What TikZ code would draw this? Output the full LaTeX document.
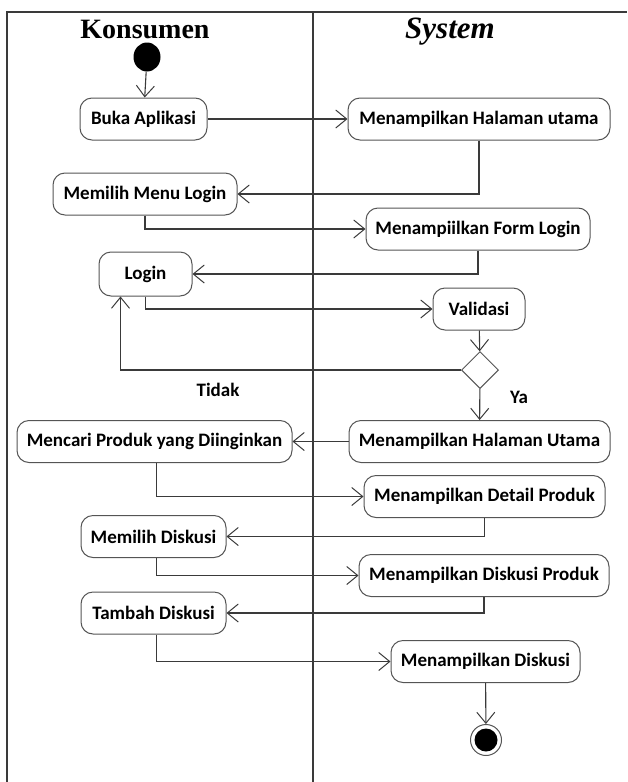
\documentclass[tikz,border=0pt]{standalone}
\usepackage{fontspec}
\setmainfont{Carlito}
\newfontfamily\headfont{Liberation Serif}
\usetikzlibrary{arrows.meta,shapes.geometric}
\definecolor{edgegray}{HTML}{3A3A3A}
\definecolor{boxgray}{HTML}{555555}
\tikzset{
  act/.style={draw=boxgray, line width=1pt, rounded corners=12pt,
    minimum height=42pt, inner sep=0pt, align=center,
    font=\fontsize{19}{21}\selectfont\bfseries},
  flow/.style={draw=edgegray, line width=1.1pt,
    -{Straight Barb[length=11pt,width=18pt,line width=1pt]}},
  lbl/.style={font=\fontsize{19}{21}\selectfont\bfseries, inner sep=0pt},
  lane/.style={draw=edgegray, line width=1.2pt},
  head/.style={font=\headfont\fontsize{28}{30}\selectfont\bfseries, inner sep=0pt, anchor=base}
}
\begin{document}
\begin{tikzpicture}[x=1pt,y=-1pt]
\useasboundingbox (0,0) rectangle (627,782);
% swimlane frame
\draw[lane] (7,782) -- (7,12) -- (627,12);
\draw[lane] (313,12) -- (313,782);
\node[head] (hk) at (145,38) {Konsumen};
\node[head, font=\headfont\fontsize{31}{33}\selectfont\bfseries\itshape] (hs) at (450,38) {System};

% initial and final states
\node (start) [ellipse, fill=black, minimum width=27pt, minimum height=29pt, inner sep=0pt] at (147,57) {};
\node (end) [circle, draw=boxgray, line width=1pt, minimum size=31pt, inner sep=0pt,
  path picture={\fill[black] (path picture bounding box.center) circle (11.5pt);}] at (486,740) {};

% activities: customer lane
\node[act, minimum width=127pt] (buka) at (143.5,119) {Buka Aplikasi};
\node[act, minimum width=184pt] (menu) at (145,194) {Memilih Menu Login};
\node[act, minimum width=93pt, minimum height=44pt] (login) at (145.5,274) {Login};
\node[act, minimum width=275pt] (cari) at (154.5,441.5) {Mencari Produk yang Diinginkan};
\node[act, minimum width=145pt] (pdisk) at (153.5,536.5) {Memilih Diskusi};
\node[act, minimum width=145pt] (tdisk) at (153.5,613) {Tambah Diskusi};

% activities: system lane
\node[act, minimum width=262pt] (hal1) at (479,119) {Menampilkan Halaman utama};
\node[act, minimum width=224pt] (form) at (478,229) {Menampiilkan Form Login};
\node[act, minimum width=92pt] (valid) at (479,309) {Validasi};
\node[diamond, draw=boxgray, line width=1pt, minimum width=37pt, minimum height=37pt, inner sep=0pt] (dec) at (480,370) {};
\node[act, minimum width=261pt] (hal2) at (479.5,441.5) {Menampilkan Halaman Utama};
\node[act, minimum width=241pt] (detail) at (484.5,496.5) {Menampilkan Detail Produk};
\node[act, minimum width=250pt] (dprod) at (484,575.5) {Menampilkan Diskusi Produk};
\node[act, minimum width=189pt] (disk) at (485.5,661.5) {Menampilkan Diskusi};

% guard labels
\node[lbl] (tidak) at (218,390) {Tidak};
\node[lbl] (ya) at (519,397) {Ya};

% control flow
\draw[flow] (start) -- (buka);
\draw[flow] (buka) -- (hal1);
\draw[flow] (hal1.south) |- (menu.east);
\draw[flow] (menu.south) |- (form.west);
\draw[flow] (form.south) |- (login.east);
\draw[flow] (login.south) |- (valid.west);
\draw[flow] (valid) -- (dec);
\draw[flow] (dec.west) -| ([xshift=-25pt]login.south);
\draw[flow] (dec) -- (hal2);
\draw[flow] (hal2) -- (cari);
\draw[flow] ([xshift=2pt]cari.south) |- (detail.west);
\draw[flow] (detail.south) |- (pdisk.east);
\draw[flow] ([xshift=3pt]pdisk.south) |- (dprod.west);
\draw[flow] (dprod.south) |- (tdisk.east);
\draw[flow] ([xshift=3pt]tdisk.south) |- (disk.west);
\draw[flow] (disk) -- (end);
\end{tikzpicture}
\end{document}
